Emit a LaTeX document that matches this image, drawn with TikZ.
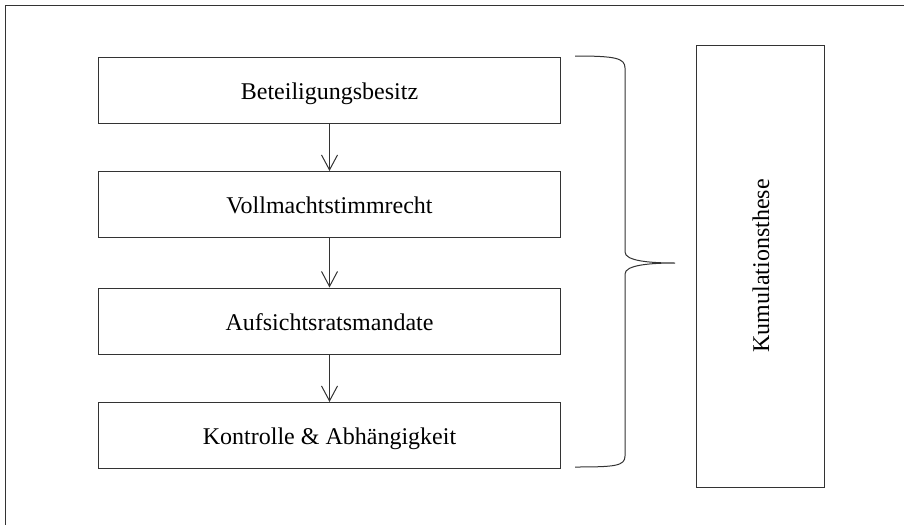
\documentclass[tikz,border=0pt]{standalone}
\usepackage{fontspec}
\setmainfont{Liberation Serif}
\usetikzlibrary{arrows.meta}
\begin{document}
\begin{tikzpicture}[x=1pt,y=-1pt,
  ln/.style={draw=black!80,line width=1pt},
  txt/.style={font=\fontsize{24}{28}\selectfont,text height=18pt,text depth=0pt},
  stepbox/.style={ln,txt,minimum width=462pt,minimum height=66pt,inner sep=0pt},
  flow/.style={ln,-{Straight Barb[length=15pt,width=16pt]}}]
\useasboundingbox (0,0) rectangle (904,525);
\draw[ln] (904,5.5) -- (5.5,5.5) -- (5.5,525);
\node[stepbox] (b1) at (329.5,90) {Beteiligungsbesitz};
\node[stepbox] (b2) at (329.5,204.5) {Vollmachtstimmrecht};
\node[stepbox] (b3) at (329.5,321) {Aufsichtsratsmandate};
\node[stepbox] (b4) at (329.5,435.5) {Kontrolle \& Abhängigkeit};
\draw[flow] (b1.south) -- (b2.north);
\draw[flow] (b2.south) -- (b3.north);
\draw[flow] (b3.south) -- (b4.north);
\draw[ln] (575,56) .. controls (615,56) and (625,58) .. (625,68) -- (625,252)
  .. controls (625,261) and (650,263) .. (675,263)
  .. controls (650,263) and (625,265) .. (625,274) -- (625,456)
  .. controls (625,466) and (615,467) .. (575,467);
\node[ln,minimum width=128pt,minimum height=442pt,inner sep=0pt] (k) at (760,266) {};
\node[rotate=90,txt,inner sep=0pt] (kt) at (k.center) {Kumulationsthese};
\end{tikzpicture}
\end{document}
